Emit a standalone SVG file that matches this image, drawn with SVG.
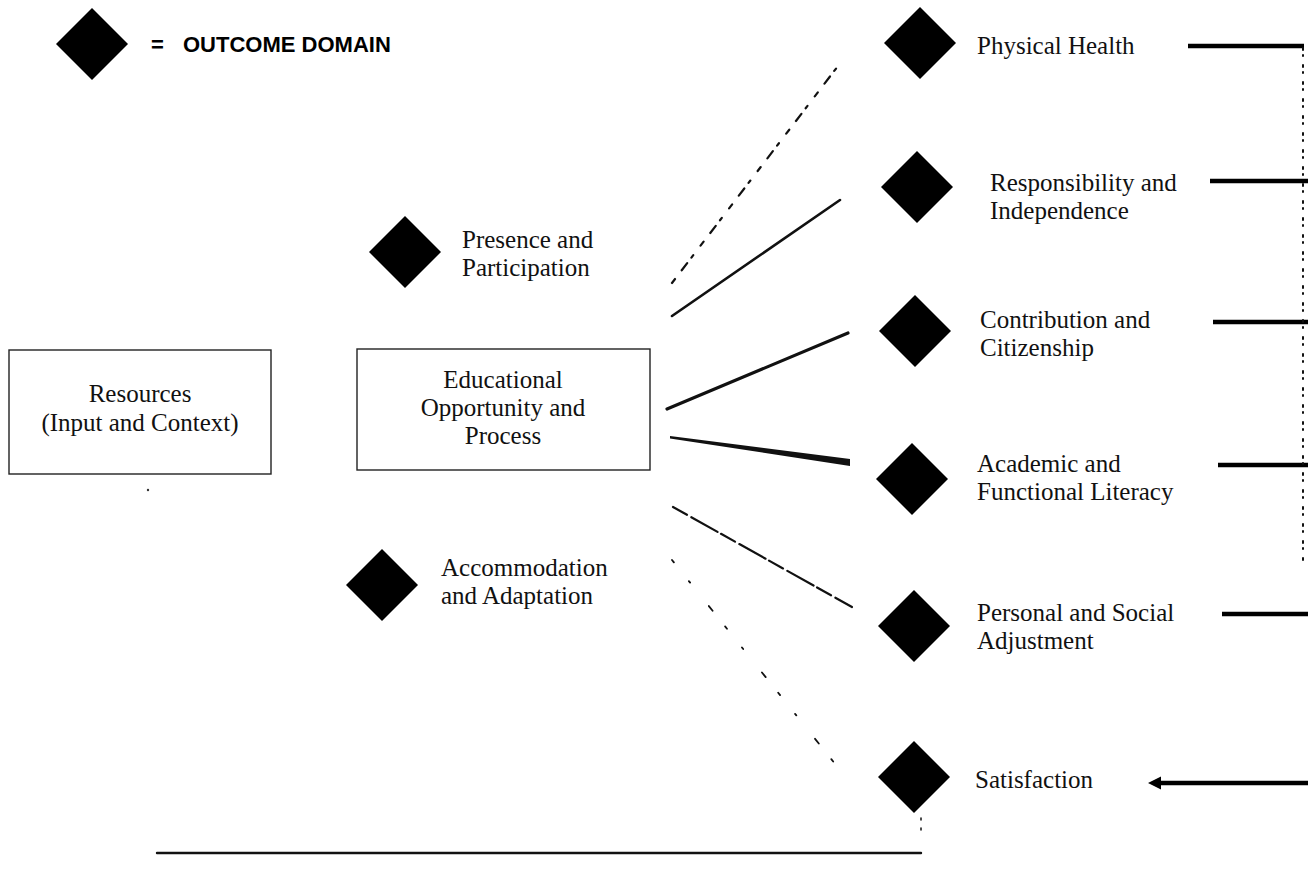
<svg xmlns="http://www.w3.org/2000/svg" width="1308" height="885" viewBox="0 0 1308 885">
<style>
.dia{fill:#000}
.box{fill:#fff;stroke:#222;stroke-width:1.4}
.t{font-family:"Liberation Serif","Times New Roman",serif;font-size:25px;fill:#111}
.tc{text-anchor:middle}
.leg{font-family:"Liberation Sans",Arial,sans-serif;font-size:22px;font-weight:bold;fill:#000}
.c{stroke:#111;fill:none;stroke-linecap:round}
.hr{stroke:#000;stroke-width:4.5;fill:none}
</style>
<defs>
<marker id="ah" viewBox="0 0 10 10" refX="1" refY="5" markerWidth="3" markerHeight="3" orient="auto-start-reverse">
<path d="M0,0 L10,5 L0,10 z" fill="#000"/>
</marker>
</defs>
<rect width="1308" height="885" fill="#fff"/>

<g id="legend">
<polygon class="dia" points="92,8 128,44 92,80 56,44"/>
<text class="leg" x="151" y="52">=</text>
<text class="leg" x="183" y="52">OUTCOME DOMAIN</text>
</g>

<g id="connectors">
<line class="c" x1="672" y1="283" x2="838" y2="66" stroke-width="2.2" stroke-dasharray="5 11 9 7 3 12"/>
<line class="c" x1="672" y1="316" x2="840" y2="200" stroke-width="2.6"/>
<line class="c" x1="667" y1="409" x2="848" y2="333" stroke-width="3.2"/>
<polygon points="670,436 850,459 850,466 670,438.5" fill="#111"/>
<line class="c" x1="673" y1="507" x2="852" y2="607" stroke-width="2.2" stroke-dasharray="16 5 30 4"/>
<line class="c" x1="672" y1="560" x2="840" y2="770" stroke-width="1.8" stroke-dasharray="3 24 2 30 6 20"/>
<line class="hr" x1="1188" y1="46" x2="1304" y2="46"/>
<line class="hr" x1="1210" y1="181" x2="1308" y2="181"/>
<line class="hr" x1="1213" y1="322" x2="1308" y2="322"/>
<line class="hr" x1="1218" y1="465" x2="1308" y2="465"/>
<line class="hr" x1="1222" y1="614" x2="1308" y2="614"/>
<line class="hr" x1="1160" y1="783" x2="1308" y2="783" marker-start="url(#ah)"/>
<line class="c" x1="1303" y1="48" x2="1303" y2="560" stroke-width="2" stroke-dasharray="2 5 1 9" stroke="#444"/>
<line class="c" x1="921" y1="818" x2="921" y2="836" stroke-width="1.5" stroke-dasharray="2 8"/>
<line class="c" x1="157" y1="853" x2="921" y2="853" stroke-width="2.4"/>
<circle cx="148" cy="490" r="1.2" fill="#333"/>
</g>

<g id="resources">
<rect class="box" x="9" y="350" width="262" height="124"/>
<text class="t tc" x="140" y="402">Resources</text>
<text class="t tc" x="140" y="431">(Input and Context)</text>
</g>

<g id="process">
<rect class="box" x="357" y="349" width="293" height="121"/>
<text class="t tc" x="503" y="388">Educational</text>
<text class="t tc" x="503" y="416">Opportunity and</text>
<text class="t tc" x="503" y="444">Process</text>
</g>

<g id="presence">
<polygon class="dia" points="405,216 441,252 405,288 369,252"/>
<text class="t" x="462" y="248">Presence and</text>
<text class="t" x="462" y="276">Participation</text>
</g>

<g id="accommodation">
<polygon class="dia" points="382,549 418,585 382,621 346,585"/>
<text class="t" x="441" y="576">Accommodation</text>
<text class="t" x="441" y="604">and Adaptation</text>
</g>

<g id="physical">
<polygon class="dia" points="920,7 956,43 920,79 884,43"/>
<text class="t" x="977" y="54">Physical Health</text>
</g>

<g id="responsibility">
<polygon class="dia" points="917,151 953,187 917,223 881,187"/>
<text class="t" x="990" y="191">Responsibility and</text>
<text class="t" x="990" y="219">Independence</text>
</g>

<g id="contribution">
<polygon class="dia" points="915,295 951,331 915,367 879,331"/>
<text class="t" x="980" y="328">Contribution and</text>
<text class="t" x="980" y="356">Citizenship</text>
</g>

<g id="academic">
<polygon class="dia" points="912,443 948,479 912,515 876,479"/>
<text class="t" x="977" y="472">Academic and</text>
<text class="t" x="977" y="500">Functional Literacy</text>
</g>

<g id="personal">
<polygon class="dia" points="914,590 950,626 914,662 878,626"/>
<text class="t" x="977" y="621">Personal and Social</text>
<text class="t" x="977" y="649">Adjustment</text>
</g>

<g id="satisfaction">
<polygon class="dia" points="914,741 950,777 914,813 878,777"/>
<text class="t" x="975" y="788">Satisfaction</text>
</g>
</svg>
